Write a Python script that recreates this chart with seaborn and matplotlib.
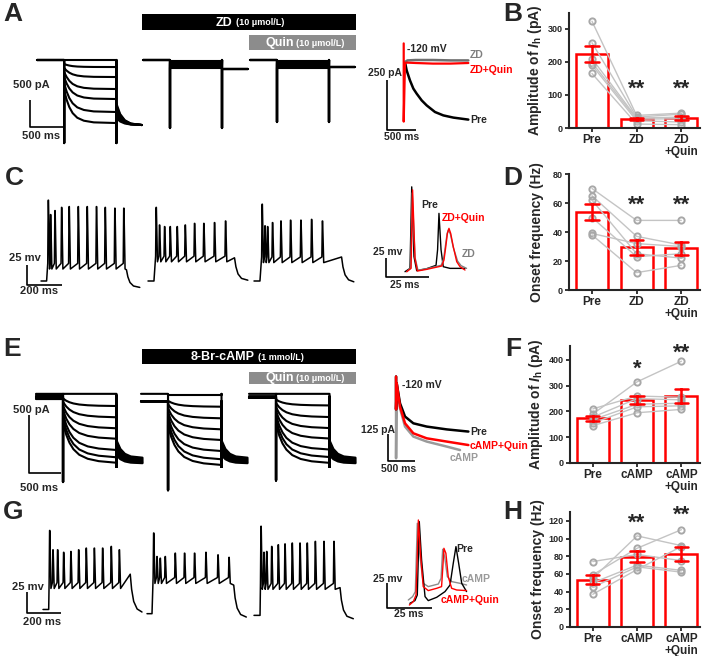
import numpy as np
import pandas as pd
import matplotlib
matplotlib.use("Agg")
import matplotlib.pyplot as plt
from matplotlib.patches import Rectangle
import seaborn as sns

#%% bar panels (one value per recorded cell)
zd_groups = ["Pre", "ZD", "ZD\n+Quin"]
camp_groups = ["Pre", "cAMP", "cAMP\n+Quin"]

ih_zd_pre = [323, 258, 210, 198, 190, 165]
ih_zd_zd = [38, 33, 30, 27, 22, 12]
ih_zd_quin = [45, 42, 33, 28, 18, 10]

freq_zd_pre = [70, 65, 62, 50, 39, 38]
freq_zd_zd = [48, 37, 25, 23, 32, 12]
freq_zd_quin = [48, 31, 22, 25, 30, 17]

ih_camp_pre = [190, 210, 178, 168, 155, 145]
ih_camp_camp = [315, 260, 250, 228, 218, 195]
ih_camp_quin = [395, 255, 245, 232, 222, 208]

freq_camp_pre = [55, 74, 59, 50, 45, 37]
freq_camp_camp = [103, 82, 89, 70, 68, 65]
freq_camp_quin = [92, 75, 110, 64, 62, 91]

#%% voltage clamp families, row A (ms, pA)
a_t_on, a_t_off, a_t_end = 410, 1200, 1590
a_pre_inst = [0, -74, -148, -222, -315, -426, -555]
a_pre_ss = [0, -130, -315, -537, -722, -962, -1166]
a_pre_tail0 = [-796, -840, -885, -930, -975, -1020, -1073]
a_pre_tail1 = -1203
a_pre_cap = -1536
a_zd_ss = [-10, -30, -55, -80, -100, -125, -148]
a_zd_tail = -166
a_zd_cap = -1250
a_zdq_ss = [-10, -30, -55, -80, -100, -125, -148]
a_zdq_tail = -130
a_zdq_cap = -1147
a_relax_t = [0, 40, 80, 130, 200, 300, 450]
a_relax_f = [0, 0.3, 0.52, 0.7, 0.84, 0.93, 0.98]

#%% voltage clamp families, row E (ms, pA)
e_t_on, e_t_off, e_t_end = 416, 1240, 1640
e_pre_hold = [10, 0, -10, -15, -20, -25, -30, -35]
e_pre_inst = [10, -30, -60, -95, -130, -165, -200, -240]
e_pre_ss = [10, -95, -192, -287, -377, -474, -537, -584]
e_camp_hold = [10, -55, -55, -55, -55, -55, -55, -55]
e_camp_inst = [0, -50, -80, -115, -150, -185, -220, -260]
e_camp_ss = [0, -101, -201, -296, -388, -483, -554, -603]
e_quin_hold = [10, -10, -15, -20, -20, -25, -25, -25]
e_quin_inst = [10, -40, -70, -105, -140, -175, -210, -250]
e_quin_ss = [10, -90, -190, -285, -375, -470, -535, -585]
e_tail0 = [-390, -410, -430, -450, -470, -490, -505, -520]
e_tail1 = [-540, -548, -555, -562, -569, -576, -582, -588]
e_caps = [-750, -820, -735]
e_relax_t = [0, 50, 100, 160, 250, 380, 550]
e_relax_f = [0, 0.3, 0.5, 0.66, 0.8, 0.9, 0.96]
tail_t = [0, 60, 130, 220]
tail_f = [0, 0.5, 0.78, 0.93]

#%% current clamp firing, rows C and G (ms, mV)
c_on = [32, 34, 34]
c_off = [488, 494, 500]
c_end = [564, 570, 570]
c_rest = [-70, -70, -70]
c_trough = [-55, -46, -47]
c_voff = [-56, -41, -40]
c_vend = [-78, -69, -71]
c_spk_t = [[42, 55, 80, 118, 161, 213, 264, 317, 367, 422, 473],
           [47, 66, 95, 127, 167, 213, 266, 319, 380, 443],
           [47, 63, 78, 106, 154, 209, 268, 329, 391]]
c_spk_v = [[35, 17, 22, 26, 27, 27, 27, 27, 26, 25, 25],
           [26, 4, 2, 2, 2, 4, 6, 6, 7, 9],
           [30, 3, 2, 7, 9, 10, 10, 11, 9]]

g_on = [33, 29, 35]
g_off = [506, 503, 499]
g_end = [574, 576, 576]
g_rest = [-67, -72, -74]
g_trough = [-42, -36, -43]
g_voff = [-25, -38, -41]
g_vend = [-70, -76, -78]
g_spk_t = [[39, 58, 85, 120, 162, 207, 251, 298, 346, 396, 443],
           [39, 58, 77, 106, 164, 218, 276, 342, 412, 476],
           [41, 58, 74, 103, 141, 180, 222, 267, 309, 356, 406, 464]]
g_spk_v = [[31, 8, 8, 5, 6, 8, 10, 10, 10, 12, 8],
           [28, 0, -2, 0, 4, 4, 4, 5, 2, -1],
           [36, 5, 6, 12, 14, 15, 16, 16, 16, 18, 18, 18]]
decay_t = [8, 20, 40]
decay_f = [0.4, 0.72, 0.92]

#%% enlarged insets
ia_pre_t = [17, 46, 103, 161, 218, 305, 391, 534, 678, 851, 1109]
ia_pre_i = [0, -42, -92, -133, -158, -192, -217, -250, -267, -278, -288]
ia_zd_t = [17, 60, 200, 500, 800, 1109]
ia_zd_i = [0, 8, 10, 10, 8, 8]
ia_zdq_t = [-5, -5, 17, 50, 200, 500, 800, 1109]
ia_zdq_i = [93, -298, -5, -3, -5, -8, -8, -5]

ie_pre_t = [-12, -12, 0, 62, 156, 312, 562, 937, 1344]
ie_pre_i = [31, -120, 0, -92, -153, -184, -199, -212, -222]
ie_camp_t = [-12, -12, 0, 62, 156, 312, 562, 937, 1187]
ie_camp_i = [31, -345, 0, -115, -199, -245, -268, -291, -307]
ie_quin_t = [-12, -12, 0, 62, 156, 312, 562, 937, 1344]
ie_quin_i = [31, -120, 0, -107, -184, -230, -253, -268, -284]

ic_pre_t = [0, 2.9, 3.9, 5.2, 6.8, 12.6, 18.0, 18.9, 19.7, 20.9, 22.2, 26.1, 34.8]
ic_pre_v = [-60, -55.6, 52, -40, -58.7, -56, -51.6, -31, 17, -31, -53.4, -55.6, -55.6]
ic_zd_t = [1, 3.3, 4.2, 5.8, 7.5, 12.6, 21, 22.4, 23.2, 24.4, 25.1, 26.3, 28, 30.5, 32.5, 35.7]
ic_zd_v = [-60, -55, 44, -41, -58, -56, -51.5, -43, -30, -10, -5, -10, -28, -46, -52, -55.6]
ic_quin_t = [1, 3.5, 4.4, 5.8, 7.2, 12.6, 21.3, 22.6, 23.4, 24.6, 25.5, 26.5, 28, 30, 31.9, 34.8]
ic_quin_v = [-60, -55.6, 48, -42.4, -59.1, -56.9, -52.5, -44.6, -31.4, -9.4, -2.8, -9.4, -27, -46.8, -53.4, -57.8]

ig_pre_t = [0.9, 3.7, 5, 6.1, 7.4, 9.3, 11.1, 15.8, 20.4, 23.2, 25, 26.5, 28, 29.7, 32.4]
ig_pre_v = [-60, -57.3, -51.7, 21.7, -16.7, -53.3, -57.3, -54, -48.3, -41.7, -20, -3.3, -20, -40, -48.3]
ig_camp_t = [0, 2.4, 3.9, 5, 6.5, 8.3, 11.1, 16.7, 18.2, 19.1, 20.2, 21.7, 24.1, 28.7, 32.4]
ig_camp_v = [-56.7, -53.3, -48.3, 20, -13.3, -40, -43.3, -40.7, -35, -6, -13.3, -33.3, -38.3, -40, -41.7]
ig_quin_t = [0.6, 2.8, 4.3, 5.6, 6.9, 8.3, 11.1, 15.8, 18.5, 19.1, 19.8, 20.9, 22.2, 24.1, 26.9, 32.4]
ig_quin_v = [-61.7, -58.3, -51.7, 23.3, -13.3, -43.3, -47.3, -45, -43.3, -26.7, -5, -10, -33.3, -45, -46.7, -47.3]

#%% style
sns.set_style("ticks")
plt.rcParams["font.family"] = ["Liberation Sans", "DejaVu Sans"]
plt.rcParams["font.weight"] = "bold"
plt.rcParams["axes.labelweight"] = "bold"
plt.rcParams["mathtext.fontset"] = "custom"
plt.rcParams["mathtext.rm"] = "Liberation Sans:bold"
plt.rcParams["mathtext.it"] = "Liberation Sans:italic:bold"

RED = "#ff0000"
W, H = 708, 656
fig = plt.figure(figsize=(W / 100, H / 100), dpi=100)


def box(x0, y0, x1, y1):
    return [x0 / W, 1 - y1 / H, (x1 - x0) / W, (y1 - y0) / H]


def ftext(x, y, s, **kw):
    fig.text(x / W, 1 - y / H, s, **kw)


def trace_ax(px, xlim, ylim):
    ax = fig.add_axes(box(*px))
    ax.set_xlim(*xlim)
    ax.set_ylim(*ylim)
    ax.axis("off")
    return ax


def family(t_on, t_off, t_end, hold, inst, ss, tail0, tail1, cap_on, cap_off, relax):
    n = len(ss)
    hold, tail0, tail1 = [np.broadcast_to(np.asarray(a, float), (n,)) for a in (hold, tail0, tail1)]
    frames = []
    for k in range(n):
        t = [0, t_on, t_on, t_on]
        y = [hold[k], hold[k], cap_on, inst[k]]
        for rt, rf in zip(*relax):
            t.append(t_on + rt)
            y.append(inst[k] + (ss[k] - inst[k]) * rf)
        t += [t_off, t_off, t_off, t_off]
        y += [ss[k], hold[k], cap_off, tail0[k]]
        for tt, tf in zip(tail_t, tail_f):
            t.append(t_off + tt)
            y.append(tail0[k] + (tail1[k] - tail0[k]) * tf)
        t.append(t_end)
        y.append(tail1[k])
        frames.append(pd.DataFrame({"t": t, "y": y, "sweep": k}))
    return pd.concat(frames, ignore_index=True)


def spike_train(t_on, t_off, t_end, v_rest, v_trough, spk_t, spk_v, v_off, v_end):
    t = [0, t_on]
    v = [v_rest, v_rest]
    for st, sv in zip(spk_t, spk_v):
        t += [st - 3.5, st - 0.8, st + 0.8, st + 7]
        v += [v_trough + 7, sv - 4, sv - 4, v_trough]
    t += [t_off] + [t_off + d for d in decay_t] + [t_end]
    v += [v_off] + [v_off + (v_end - v_off) * f for f in decay_f] + [v_end]
    return pd.DataFrame({"t": t, "y": v})


def draw(ax, df, offset=0, color="k", lw=1.2, units=None):
    d = df.assign(t=df["t"] + offset)
    sns.lineplot(data=d, x="t", y="y", units=units, estimator=None, sort=False,
                 color=color, linewidth=lw, ax=ax, legend=False)


def scalebar(ax, x, y, dx, dy, lw=1.2):
    ax.plot([x, x, x + dx], [y + dy, y, y], color="k", lw=lw, solid_capstyle="butt")


def bar_panel(px, groups, vals, ylim, yticks, ylabel, stars, star_y):
    ax = fig.add_axes(box(*px))
    n = len(vals[0])
    df = pd.DataFrame({
        "group": np.repeat(groups, n),
        "pos": np.repeat(np.arange(len(groups)), n),
        "cell": np.tile(np.arange(n), len(groups)),
        "value": np.concatenate(vals),
    })
    sns.barplot(data=df, x="group", y="value", order=groups, errorbar="se",
                fill=False, color=RED, width=0.72, linewidth=1.8, capsize=0.3,
                err_kws={"color": RED, "linewidth": 1.8}, ax=ax)
    n_err = len(ax.lines)
    sns.lineplot(data=df, x="pos", y="value", units="cell", estimator=None, sort=False,
                 color="#c4c4c4", linewidth=1.0, marker="o", markersize=4.5,
                 markerfacecolor="none", markeredgecolor="#a8a8a8", markeredgewidth=1.4,
                 ax=ax, legend=False)
    for ln in ax.lines[:n_err]:
        ln.set_zorder(5)
    ax.set_xlim(-0.515, 2.42)
    ax.set_ylim(*ylim)
    ax.set_yticks(yticks)
    ax.set_xticks(range(len(groups)))
    ax.set_xticklabels(groups, fontsize=8.5, fontweight="bold", linespacing=1.0)
    ax.tick_params(axis="y", labelsize=6.5, width=1.3, length=3, pad=1.5)
    ax.tick_params(axis="x", width=1.3, length=3, pad=1.5)
    for lab in ax.get_yticklabels():
        lab.set_fontweight("bold")
    ax.set_xlabel("")
    ax.set_ylabel(ylabel, fontsize=10, fontweight="bold")
    ax.yaxis.set_label_coords(-0.19, 0.5)
    sns.despine(ax=ax)
    for sp in ("left", "bottom"):
        ax.spines[sp].set_linewidth(1.5)
    for pos, s, y in zip(range(len(groups)), stars, star_y):
        if s:
            ax.text(pos, y, s, ha="center", va="center", fontsize=16, fontweight="bold")
    return ax


#%% panel letters
for lab, x, y in [("A", 13, 14), ("C", 14, 178), ("E", 12, 349), ("G", 13, 512),
                  ("B", 513, 14), ("D", 513, 178), ("F", 513, 349), ("H", 513, 512)]:
    ftext(x, y, lab, fontsize=19, fontweight="bold", ha="center", va="center")

#%% drug bars
def drug_bar(x0, y0, x1, y1, fc, name, conc, split):
    fig.add_artist(Rectangle((x0 / W, 1 - y1 / H), (x1 - x0) / W, (y1 - y0) / H,
                             transform=fig.transFigure, facecolor=fc, edgecolor="none"))
    ym = (y0 + y1) / 2
    ftext(split - 1.5, ym + 0.5, name, color="white", fontsize=9, fontweight="bold", ha="right", va="center")
    ftext(split + 1.5, ym + 0.5, conc, color="white", fontsize=6.5, fontweight="bold", ha="left", va="center")

drug_bar(142, 14, 356, 30, "black", "ZD", "(10 μmol/L)", 234)
drug_bar(249, 35, 356, 50, "#8c8c8c", "Quin", "(10 μmol/L)", 295)
drug_bar(142, 349, 356, 364, "black", "8-Br-cAMP", "(1 mmol/L)", 256)
drug_bar(249, 372, 356, 384, "#8c8c8c", "Quin", "(10 μmol/L)", 295)

#%% row A traces (15.15 ms/px, 18.5 pA/px, baseline at y=60 px)
ax = trace_ax((0, 45, 360, 150), (0, 360 * 15.15), (-(150 - 60) * 18.5, (60 - 45) * 18.5))
relax_a = (a_relax_t, a_relax_f)
draw(ax, family(a_t_on, a_t_off, a_t_end, 0, a_pre_inst, a_pre_ss, a_pre_tail0, a_pre_tail1,
                a_pre_cap, a_pre_cap, relax_a), 37 * 15.15, lw=1.5, units="sweep")
draw(ax, family(a_t_on, a_t_off, a_t_end, 0, a_zd_ss, a_zd_ss, a_zd_tail, a_zd_tail,
                a_zd_cap, a_zd_cap, relax_a), 143 * 15.15, lw=1.5, units="sweep")
draw(ax, family(a_t_on, a_t_off, a_t_end, 0, a_zdq_ss, a_zdq_ss, a_zdq_tail, a_zdq_tail,
                a_zdq_cap, a_zdq_cap, relax_a), 250 * 15.15, lw=1.5, units="sweep")
scalebar(ax, 30 * 15.15, -(127 - 60) * 18.5, 500, 500)
ax.text(31 * 15.15, -(85 - 60) * 18.5, "500 pA", fontsize=8, fontweight="bold", ha="center", va="center")
ax.text(41.5 * 15.15, -(136 - 60) * 18.5, "500 ms", fontsize=8, fontweight="bold", ha="center", va="center")

#%% row E traces (15.4 ms/px, 8.62 pA/px, baseline at y=395 px)
ax = trace_ax((0, 385, 360, 500), (0, 360 * 15.4), (-(500 - 395) * 8.62, (395 - 385) * 8.62))
relax_e = (e_relax_t, e_relax_f)
for hold, inst, ss, cap, x0 in [(e_pre_hold, e_pre_inst, e_pre_ss, e_caps[0], 36),
                                (e_camp_hold, e_camp_inst, e_camp_ss, e_caps[1], 141),
                                (e_quin_hold, e_quin_inst, e_quin_ss, e_caps[2], 249)]:
    draw(ax, family(e_t_on, e_t_off, e_t_end, hold, inst, ss, e_tail0, e_tail1, cap, -620, relax_e),
         x0 * 15.4, lw=1.5, units="sweep")
scalebar(ax, 29 * 15.4, -(473 - 395) * 8.62, 500, 500)
ax.text(31 * 15.4, -(410 - 395) * 8.62, "500 pA", fontsize=8, fontweight="bold", ha="center", va="center")
ax.text(39 * 15.4, -(488 - 395) * 8.62, "500 ms", fontsize=8, fontweight="bold", ha="center", va="center")

#%% row C traces (5.71 ms/px, 1.25 mV/px, -70 mV at y=281 px)
ax = trace_ax((0, 170, 360, 300), (0, 360 * 5.71), (-70 - (300 - 281) * 1.25, -70 + (281 - 170) * 1.25))
for k, x0 in enumerate([41, 148, 254]):
    draw(ax, spike_train(c_on[k], c_off[k], c_end[k], c_rest[k], c_trough[k],
                         c_spk_t[k], c_spk_v[k], c_voff[k], c_vend[k]), x0 * 5.71, lw=1.1)
scalebar(ax, 27 * 5.71, -75, 200, 25)
ax.text(25 * 5.71, -41, "25 mv", fontsize=8, fontweight="bold", ha="center", va="center")
ax.text(39 * 5.71, -82.5, "200 ms", fontsize=8, fontweight="bold", ha="center", va="center")

#%% row G traces (5.8 ms/px, 1.19 mV/px, -70 mV at y=612 px)
ax = trace_ax((0, 505, 360, 640), (0, 360 * 5.8), (-70 - (640 - 612) * 1.19, -70 + (612 - 505) * 1.19))
for k, x0 in enumerate([43, 147, 254]):
    draw(ax, spike_train(g_on[k], g_off[k], g_end[k], g_rest[k], g_trough[k],
                         g_spk_t[k], g_spk_v[k], g_voff[k], g_vend[k]), x0 * 5.8, lw=1.1)
scalebar(ax, 27 * 5.8, -71.2, 200, 25)
ax.text(28 * 5.8, -40.3, "25 mv", fontsize=8, fontweight="bold", ha="center", va="center")
ax.text(42 * 5.8, -81.9, "200 ms", fontsize=8, fontweight="bold", ha="center", va="center")

#%% inset A (17.24 ms/px, 5 pA/px)
ax = trace_ax((360, 35, 530, 145), ((360 - 404) * 17.24, (530 - 404) * 17.24), (-(145 - 62) * 5, (62 - 35) * 5))
draw(ax, pd.DataFrame({"t": ia_pre_t, "y": ia_pre_i}), lw=1.8)
draw(ax, pd.DataFrame({"t": ia_zd_t, "y": ia_zd_i}), color="#707070", lw=1.8)
draw(ax, pd.DataFrame({"t": ia_zdq_t, "y": ia_zdq_i}), color=RED, lw=1.6)
scalebar(ax, (387 - 404) * 17.24, -340, 500, 250)
ax.text(52, 63, "-120 mV", fontsize=7.5, fontweight="bold", ha="left", va="center")
ax.text(1138, 35, "ZD", fontsize=7.5, fontweight="bold", color="#7f7f7f", ha="left", va="center")
ax.text(1138, -40, "ZD+Quin", fontsize=7.5, fontweight="bold", color=RED, ha="left", va="center")
ax.text(1138, -290, "Pre", fontsize=7.5, fontweight="bold", ha="left", va="center")
ax.text(-336, -57, "250 pA", fontsize=7.5, fontweight="bold", ha="center", va="center")
ax.text(-43, -373, "500 ms", fontsize=7.5, fontweight="bold", ha="center", va="center")

#%% inset E (18.75 ms/px, 4.6 pA/px)
ax = trace_ax((360, 372, 530, 480), ((360 - 396.7) * 18.75, (530 - 396.7) * 18.75), (-(480 - 383.3) * 4.6, (383.3 - 372) * 4.6))
draw(ax, pd.DataFrame({"t": ie_camp_t, "y": ie_camp_i}), color="#9a9a9a", lw=1.8)
draw(ax, pd.DataFrame({"t": ie_pre_t, "y": ie_pre_i}), lw=1.8)
draw(ax, pd.DataFrame({"t": ie_quin_t, "y": ie_quin_i}), color=RED, lw=1.8)
scalebar(ax, -156, -356, 500, 125)
ax.text(94, -8, "-120 mV", fontsize=7.5, fontweight="bold", ha="left", va="center")
ax.text(1375, -224, "Pre", fontsize=7.5, fontweight="bold", ha="left", va="center")
ax.text(1375, -288, "cAMP+Quin", fontsize=7.5, fontweight="bold", color=RED, ha="left", va="center")
ax.text(984, -345, "cAMP", fontsize=7.5, fontweight="bold", color="#9a9a9a", ha="left", va="center")
ax.text(-353, -215, "125 pA", fontsize=7.5, fontweight="bold", ha="center", va="center")
ax.text(43, -395, "500 ms", fontsize=7.5, fontweight="bold", ha="center", va="center")

#%% inset C (0.58 ms/px, 1.32 mV/px)
ax = trace_ax((360, 180, 530, 300), ((360 - 405) * 0.58, (530 - 405) * 0.58), (-60 - (300 - 271.7) * 1.32, -60 + (271.7 - 180) * 1.32))
draw(ax, pd.DataFrame({"t": ic_pre_t, "y": ic_pre_v}), lw=1.0)
draw(ax, pd.DataFrame({"t": ic_zd_t, "y": ic_zd_v}), color="#808080", lw=1.0)
draw(ax, pd.DataFrame({"t": ic_quin_t, "y": ic_quin_v}), color=RED, lw=1.0)
scalebar(ax, -11, -67.4, 25, 25)
ax.text(-9.9, -34, "25 mv", fontsize=7.5, fontweight="bold", ha="center", va="center")
ax.text(0, -77.6, "25 ms", fontsize=7.5, fontweight="bold", ha="center", va="center")
ax.text(14.5, 28, "Pre", fontsize=7.5, fontweight="bold", ha="center", va="center")
ax.text(34.2, 11, "ZD+Quin", fontsize=7.5, fontweight="bold", color=RED, ha="center", va="center")
ax.text(37.1, -37, "ZD", fontsize=7.5, fontweight="bold", color="#808080", ha="center", va="center")

#%% inset G (0.556 ms/px, 1 mV/px)
ax = trace_ax((360, 510, 530, 630), ((360 - 408.3) * 0.556, (530 - 408.3) * 0.556), (-60 - (630 - 603.3), -60 + (603.3 - 510)))
draw(ax, pd.DataFrame({"t": ig_camp_t, "y": ig_camp_v}), color="#8c8c8c", lw=1.0)
draw(ax, pd.DataFrame({"t": ig_pre_t, "y": ig_pre_v}), lw=1.0)
draw(ax, pd.DataFrame({"t": ig_quin_t, "y": ig_quin_v}), color=RED, lw=1.0)
scalebar(ax, -12, -65, 25, 25)
ax.text(-11.3, -35.7, "25 mv", fontsize=7.5, fontweight="bold", ha="center", va="center")
ax.text(0.4, -70.7, "25 ms", fontsize=7.5, fontweight="bold", ha="center", va="center")
ax.text(31.5, -5.7, "Pre", fontsize=7.5, fontweight="bold", ha="center", va="center")
ax.text(37.6, -35.7, "cAMP", fontsize=7.5, fontweight="bold", color="#9a9a9a", ha="center", va="center")
ax.text(34.3, -56.7, "cAMP+Quin", fontsize=7.5, fontweight="bold", color=RED, ha="center", va="center")

#%% bar charts
ih_label = r"Amplitude of $\it{I}_{\rm h}$ (pA)"
bar_panel((569, 13, 700, 128), zd_groups, [ih_zd_pre, ih_zd_zd, ih_zd_quin],
          (0, 348), [0, 100, 200, 300], ih_label, ["", "**", "**"], [0, 118, 118])
bar_panel((569, 174, 700, 290), zd_groups, [freq_zd_pre, freq_zd_zd, freq_zd_quin],
          (0, 80), [0, 20, 40, 60, 80], "Onset frequency (Hz)", ["", "**", "**"], [0, 58.6, 58.6])
bar_panel((570, 346, 700, 463), camp_groups, [ih_camp_pre, ih_camp_camp, ih_camp_quin],
          (0, 454), [0, 100, 200, 300, 400], ih_label, ["", "*", "**"], [0, 365, 427])
bar_panel((570, 512, 700, 627), camp_groups, [freq_camp_pre, freq_camp_camp, freq_camp_quin],
          (0, 130), [0, 20, 40, 60, 80, 100, 120], "Onset frequency (Hz)", ["", "**", "**"], [0, 117, 126])

fig.savefig("out.png", dpi=100)
